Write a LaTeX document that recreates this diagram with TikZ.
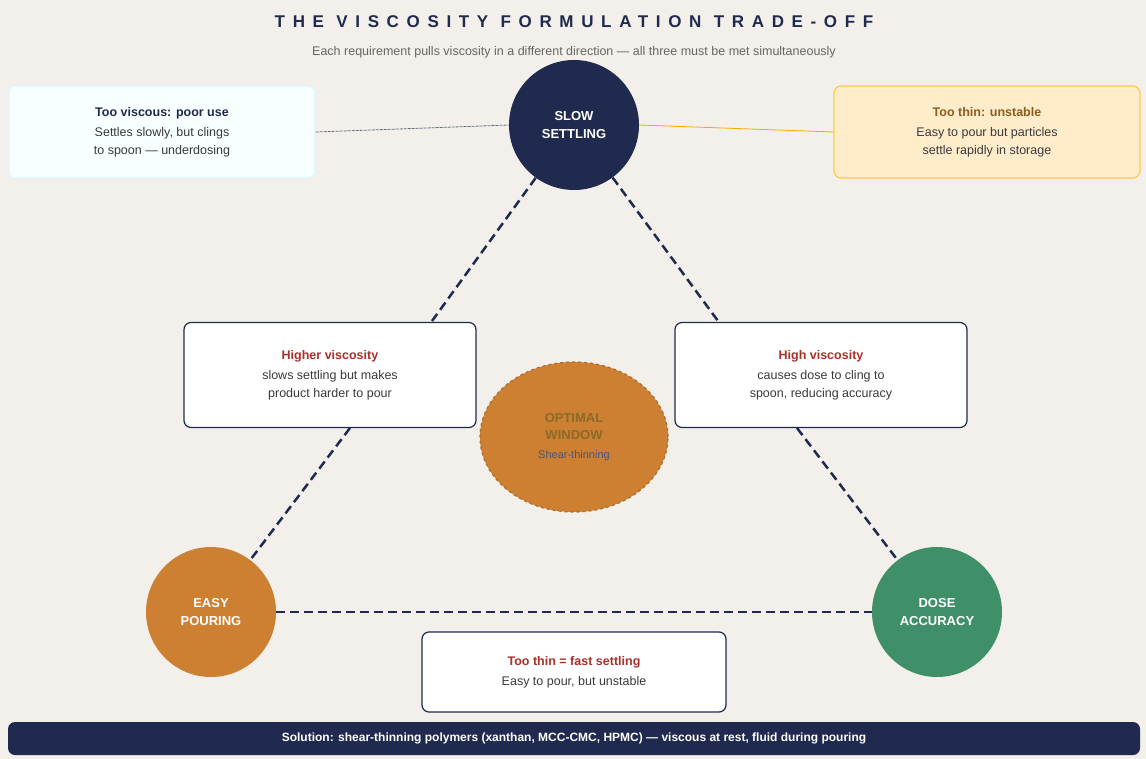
\documentclass[tikz,border=0pt]{standalone}
\usepackage{fontspec}
\setmainfont{Liberation Sans}
\usetikzlibrary{shapes.geometric}
\definecolor{navy}{HTML}{1F2A4E}
\definecolor{bg}{HTML}{F3F0EB}
\definecolor{orng}{HTML}{CD7F32}
\definecolor{grn}{HTML}{3F9068}
\definecolor{redt}{HTML}{A8302A}
\definecolor{txt}{HTML}{3A3A3A}
\definecolor{gold}{HTML}{8B5E1A}
\definecolor{optt}{HTML}{8A6A28}
\begin{document}
\begin{tikzpicture}[x=1pt,y=-1pt,
  circ/.style={circle,minimum size=130pt,inner sep=0pt,text=white,font=\bfseries\fontsize{13}{18}\selectfont,align=center},
  box/.style={draw=navy,line width=1.2pt,fill=white,rounded corners=7pt,align=center,font=\fontsize{12.5}{18}\selectfont,text=txt},
  dline/.style={navy,line width=2.5pt,dash pattern=on 9pt off 5pt}]
\fill[bg] (0,0) rectangle (1146,759);
\node (title) at (574,22) {\bfseries\addfontfeature{LetterSpace=45}\fontsize{17}{20}\selectfont\color{navy}THE VISCOSITY FORMULATION TRADE-OFF};
\node (sub) at (574,52) {\fontsize{12.5}{15}\selectfont\color{black!60}Each requirement pulls viscosity in a different direction --- all three must be met simultaneously};
\node[circ,fill=navy] (slow) at (574,125) {SLOW\\SETTLING};
\node[circ,fill=orng] (easy) at (211,612) {EASY\\POURING};
\node[circ,fill=grn] (dose) at (937,612) {DOSE\\ACCURACY};
\node[box,draw=blue!20!cyan!15!white,fill=blue!5!cyan!3!white,minimum width=306pt,minimum height=92pt] (lb) at (162,132) {\textcolor{navy}{\bfseries Too viscous: poor use}\\[2pt]Settles slowly, but clings\\to spoon --- underdosing};
\node[box,draw=orange!60!yellow!70,fill=yellow!25!orange!18,minimum width=306pt,minimum height=92pt] (rb) at (987,132) {\textcolor{gold}{\bfseries Too thin: unstable}\\[2pt]Easy to pour but particles\\settle rapidly in storage};
\node[box,minimum width=292pt,minimum height=105pt] (hl) at (330,375) {\textcolor{redt}{\bfseries Higher viscosity}\\[2pt]slows settling but makes\\product harder to pour};
\node[box,minimum width=292pt,minimum height=105pt] (hr) at (821,375) {\textcolor{redt}{\bfseries High viscosity}\\[2pt]causes dose to cling to\\spoon, reducing accuracy};
\node[ellipse,fill=orng,draw=orng!85!black,dashed,line width=1.2pt,minimum width=188pt,minimum height=150pt,align=center,font=\fontsize{13}{17}\selectfont] (opt) at (574,437) {\textcolor{optt}{\bfseries OPTIMAL}\\\textcolor{optt}{\bfseries WINDOW}\\[2pt]\textcolor{navy!80}{\fontsize{11}{14}\selectfont Shear-thinning}};
\node[box,minimum width=304pt,minimum height=80pt] (tt) at (574,672) {\textcolor{redt}{\bfseries Too thin = fast settling}\\[2pt]Easy to pour, but unstable};
\node[fill=navy,rounded corners=7pt,minimum width=1132pt,minimum height=33pt,text=white,font=\bfseries\fontsize{12}{14}\selectfont] (bar) at (574,738.5) {Solution: shear-thinning polymers (xanthan, MCC-CMC, HPMC) --- viscous at rest, fluid during pouring};
\coordinate (hlt) at (432,321);
\coordinate (hlb) at (350,428);
\coordinate (hrt) at (718,321);
\coordinate (hrb) at (797,428);
\draw[navy!70,line width=0.8pt,dash pattern=on 3pt off 1pt] (lb.east) -- (slow.west);
\draw[orange!70!yellow,line width=0.8pt] (rb.west) -- (slow.east);
\draw[dline] (slow) -- (hlt);
\draw[dline] (hlb) -- (easy);
\draw[dline] (slow) -- (hrt);
\draw[dline] (hrb) -- (dose);
\draw[dline] (easy) -- (dose);
\end{tikzpicture}
\end{document}
